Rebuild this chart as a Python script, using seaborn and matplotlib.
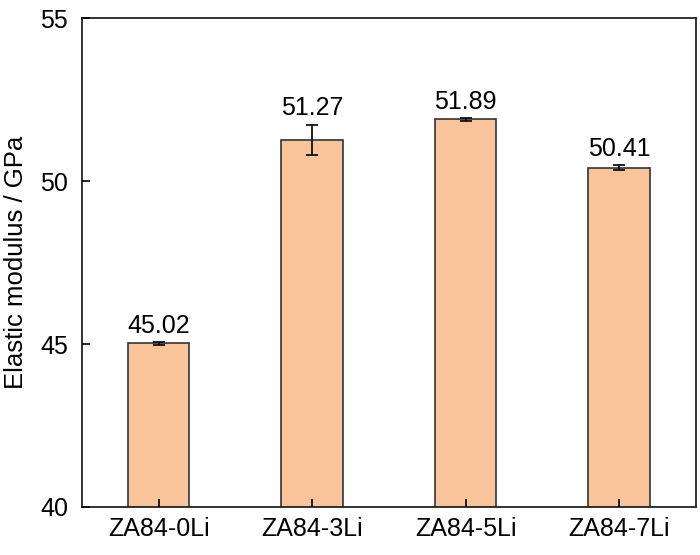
import pandas as pd
import numpy as np
import matplotlib
matplotlib.use("Agg")
import matplotlib.pyplot as plt
import seaborn as sns

# datos
muestras = ['ZA84-0Li', 'ZA84-3Li', 'ZA84-5Li', 'ZA84-7Li']
modulo = [45.02, 51.27, 51.89, 50.41]
error = [0.05, 0.46, 0.05, 0.07]

df = pd.DataFrame({'muestra': muestras, 'modulo': modulo, 'error': error})

sns.set_style("ticks")
plt.rcParams['font.family'] = ['Liberation Sans', 'DejaVu Sans']
plt.rcParams['text.color'] = 'black'
plt.rcParams['axes.labelcolor'] = 'black'
plt.rcParams['xtick.color'] = 'black'
plt.rcParams['ytick.color'] = 'black'

fig = plt.figure(figsize=(7, 5.55), dpi=100)
ax = fig.add_axes([0.117, 0.0865, 0.877, 0.881])

sns.barplot(
    data=df, x='muestra', y='modulo',
    color='#F9C499', saturation=1, width=0.4,
    edgecolor='#333333', linewidth=1.2,
    errorbar=None, ax=ax
)

# barras de error
ax.errorbar(
    np.arange(len(df)), df['modulo'], yerr=df['error'],
    fmt='none', ecolor='#111111', elinewidth=1.3, capsize=4.5, capthick=1.3
)

# etiquetas de valor
for i, (v, e) in enumerate(zip(df['modulo'], df['error'])):
    ax.annotate(f"{v:.2f}", (i, v + e), xytext=(0, 3), textcoords='offset points',
                ha='center', va='bottom', fontsize=18)

ax.set_ylim(40, 55)
ax.set_xlim(-0.5, 3.5)
ax.set_yticks([40, 45, 50, 55])
ax.set_xlabel('')
ax.set_ylabel('Elastic modulus / GPa', fontsize=18.5, labelpad=9)
ax.set_axisbelow(False)
ax.tick_params(axis='both', direction='in', length=6, width=1.2, labelsize=18,
               left=True, bottom=True, right=False, top=False)
ax.tick_params(axis='y', pad=10)
ax.tick_params(axis='x', pad=7)
for s in ax.spines.values():
    s.set_visible(True)
    s.set_linewidth(1.3)
    s.set_color('#222222')

fig.savefig('out.png', dpi=100)
